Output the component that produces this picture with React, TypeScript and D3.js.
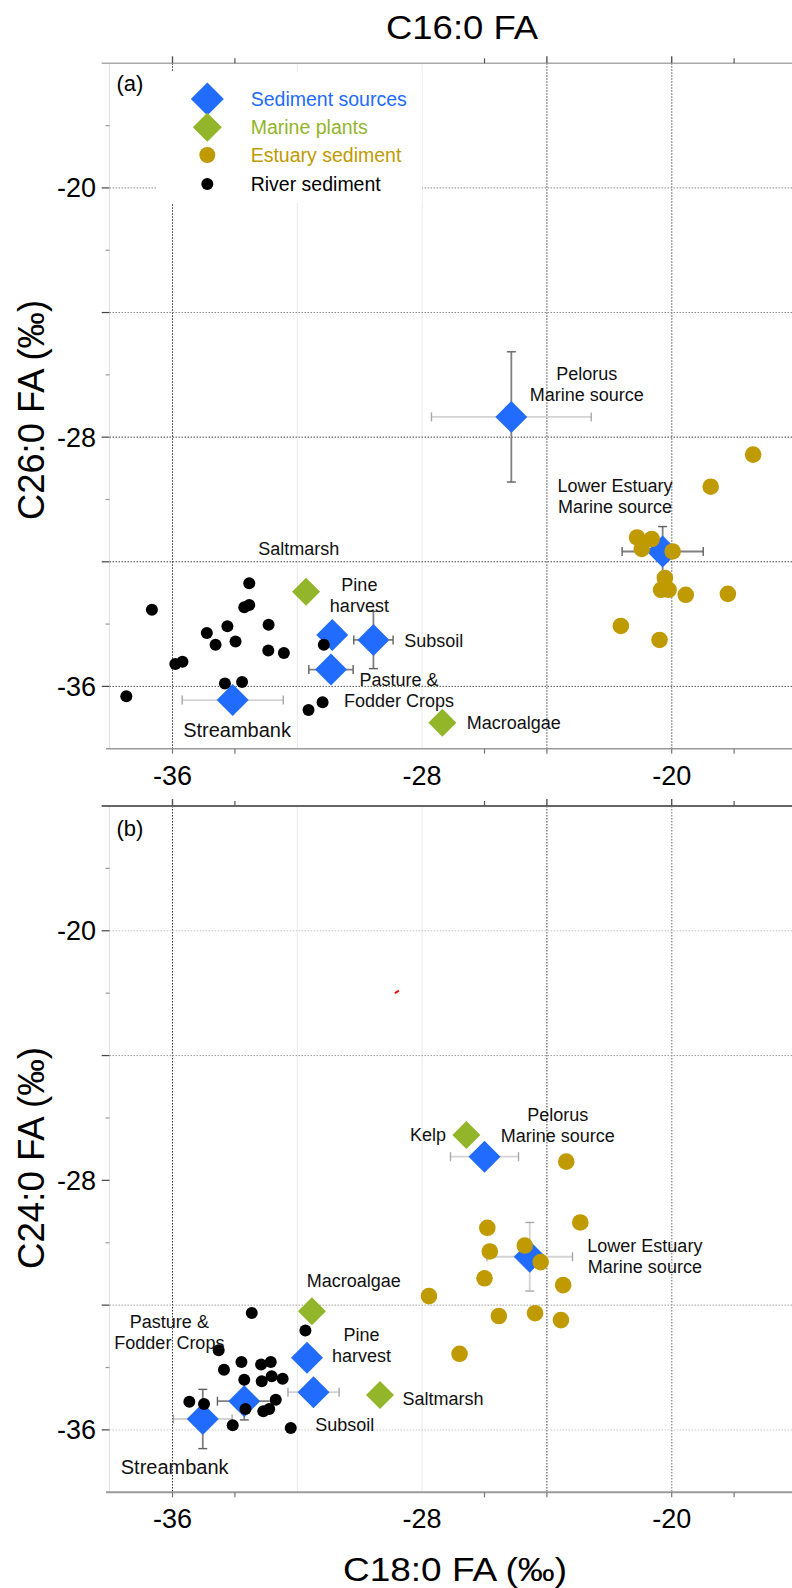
import React from "react";
import * as d3 from "d3";

// ---------- DATA ----------
const xTickLabels = [-36, -28, -20];
const yTickLabels = [-20, -28, -36];

// Panel (a): C16:0 vs C26:0
const riverA: [number, number][] = [
  [-36.66, -33.54], [-33.54, -32.69], [-33.54, -33.39], [-33.70, -33.46],
  [-34.24, -34.07], [-34.90, -34.29], [-32.92, -34.02], [-34.62, -34.66],
  [-33.98, -34.56], [-32.93, -34.85], [-32.43, -34.93], [-31.15, -34.66],
  [-35.68, -35.21], [-35.91, -35.28], [-34.32, -35.91], [-33.77, -35.86],
  [-37.48, -36.32], [-31.19, -36.51], [-31.64, -36.76],
];
const estuaryA: [number, number][] = [
  [-17.39, -28.56], [-18.75, -29.59], [-21.11, -31.22], [-20.64, -31.27],
  [-20.96, -31.59], [-19.97, -31.67], [-20.22, -32.52], [-20.34, -32.90],
  [-20.10, -32.90], [-19.55, -33.06], [-18.20, -33.03], [-21.63, -34.06],
  [-20.39, -34.51],
];
const sourceNames = [
  "Streambank", "Pine harvest", "Subsoil", "Pasture & Fodder Crops",
  "Pelorus Marine source", "Lower Estuary Marine source",
];
const sourcesAx = [-34.07, -30.88, -29.56, -30.92, -25.14, -20.29];
const sourcesAy = [-36.44, -34.35, -34.51, -35.46, -27.35, -31.67];
const sourcesAxErr = [1.62, 0, 0.63, 0.71, 2.56, 1.3];
const sourcesAyErr = [0, 0, 0.92, 0, 2.09, 0.8];
const plantNamesA = ["Saltmarsh", "Macroalgae"];
const plantsAx = [-31.72, -27.35];
const plantsAy = [-32.96, -37.17];

// Panel (b): C18:0 vs C24:0
const riverB: [number, number][] = [
  [-33.46, -32.25], [-31.74, -32.81], [-34.52, -33.45], [-34.35, -34.07],
  [-33.79, -33.82], [-33.16, -33.90], [-32.85, -33.82], [-33.70, -34.39],
  [-33.14, -34.44], [-32.82, -34.28], [-32.47, -34.36], [-32.69, -35.03],
  [-35.46, -35.10], [-34.99, -35.17], [-33.66, -35.33], [-33.09, -35.40],
  [-32.90, -35.33], [-34.07, -35.85], [-32.21, -35.94],
];
const estuaryB: [number, number][] = [
  [-23.38, -27.40], [-22.93, -29.35], [-25.91, -29.52], [-25.83, -30.28],
  [-24.71, -30.09], [-24.20, -30.62], [-26.00, -31.14], [-23.48, -31.36],
  [-27.78, -31.71], [-25.54, -32.35], [-24.38, -32.26], [-23.55, -32.48],
  [-26.80, -33.56],
];
const sourcesBx = [-35.03, -31.69, -31.48, -33.70, -26.00, -24.55];
const sourcesBy = [-35.65, -33.69, -34.79, -35.08, -27.24, -30.45];
const sourcesBxErr = [0.94, 0, 0.82, 0.86, 1.09, 1.37];
const sourcesByErr = [0.95, 0, 0, 0.6, 0, 1.1];
const plantNamesB = ["Kelp", "Macroalgae", "Saltmarsh"];
const plantsBx = [-26.58, -31.53, -29.35];
const plantsBy = [-26.55, -32.20, -34.88];

// Point labels (data coordinates of first baseline)
type Ann = { lines: string[]; x: number; y: number; anchor: string; big?: boolean };
const labelsA: Ann[] = [
  { lines: ["Pelorus", "Marine source"], x: -22.72, y: -26.17, anchor: "middle" },
  { lines: ["Lower Estuary", "Marine source"], x: -21.82, y: -29.77, anchor: "middle" },
  { lines: ["Saltmarsh"], x: -31.95, y: -31.77, anchor: "middle" },
  { lines: ["Pine", "harvest"], x: -30.01, y: -32.95, anchor: "middle" },
  { lines: ["Subsoil"], x: -28.57, y: -34.75, anchor: "start" },
  { lines: ["Pasture &", "Fodder Crops"], x: -28.74, y: -35.98, anchor: "middle" },
  { lines: ["Streambank"], x: -33.93, y: -37.62, anchor: "middle", big: true },
  { lines: ["Macroalgae"], x: -26.57, y: -37.37, anchor: "start" },
];
const labelsB: Ann[] = [
  { lines: ["Kelp"], x: -27.23, y: -26.74, anchor: "end" },
  { lines: ["Pelorus", "Marine source"], x: -23.65, y: -26.09, anchor: "middle" },
  { lines: ["Lower Estuary", "Marine source"], x: -20.86, y: -30.31, anchor: "middle" },
  { lines: ["Macroalgae"], x: -30.19, y: -31.43, anchor: "middle" },
  { lines: ["Pine", "harvest"], x: -29.94, y: -33.16, anchor: "middle" },
  { lines: ["Pasture &", "Fodder Crops"], x: -36.10, y: -32.73, anchor: "middle" },
  { lines: ["Saltmarsh"], x: -28.63, y: -35.19, anchor: "start" },
  { lines: ["Subsoil"], x: -30.48, y: -36.04, anchor: "middle" },
  { lines: ["Streambank"], x: -35.93, y: -37.41, anchor: "middle", big: true },
];
const legendItems = ["Sediment sources", "Marine plants", "Estuary sediment", "River sediment"];
const redMark: [number, number] = [-28.81, -21.96];

// ---------- STYLE ----------
const BLUE = "#216CFF";
const GREEN = "#93B52A";
const GOLD = "#BF9A00";
const FONT = "'Liberation Sans', Arial, Helvetica, sans-serif";

const x = d3.scaleLinear().domain([-38, -16]).range([110.1, 796.5]);
const yA = d3.scaleLinear().domain([-38, -16]).range([748.7, 63.3]);
const yB = d3.scaleLinear().domain([-38, -16]).range([1492.3, 806]);

const diamond = (s: number) => `M0,${-s}L${s},0L0,${s}L${-s},0Z`;

type Grid = { v: number; c: string; dash?: boolean; w?: number };
const hGridA: Grid[] = [
  { v: -20, c: "#8c8c8c", dash: true }, { v: -24, c: "#8c8c8c", dash: true },
  { v: -28, c: "#444", dash: true }, { v: -32, c: "#444", dash: true },
  { v: -36, c: "#555", dash: true },
];
const vGridA: Grid[] = [
  { v: -36, c: "#333", dash: true }, { v: -32, c: "#e8e8e8" }, { v: -28, c: "#e8e8e8" },
  { v: -24, c: "#444", dash: true }, { v: -20, c: "#888", dash: true, w: 1.5 },
];
const hGridB: Grid[] = [
  { v: -20, c: "#c4c4c4", dash: true }, { v: -24, c: "#9a9a9a", dash: true },
  { v: -32, c: "#a0a0a0", dash: true }, { v: -36, c: "#cccccc", dash: true },
];
const vGridB: Grid[] = [
  { v: -36, c: "#333", dash: true }, { v: -32, c: "#e8e8e8" }, { v: -28, c: "#e8e8e8" },
  { v: -24, c: "#444", dash: true }, { v: -20, c: "#999", dash: true, w: 1.5 },
];
const lightErr: Record<string, string[]> = {
  a: ["Pelorus Marine source:h", "Streambank:h"],
  b: ["Pelorus Marine source:h", "Lower Estuary Marine source:h", "Lower Estuary Marine source:v", "Streambank:h", "Subsoil:h"],
};

function Panel(props: {
  id: string; y: d3.ScaleLinear<number, number>;
  river: [number, number][]; estuary: [number, number][];
  sx: number[]; sy: number[]; sxe: number[]; sye: number[];
  pnames: string[]; px: number[]; py: number[];
  labels: Ann[]; hGrid: Grid[]; vGrid: Grid[];
  topStroke: string; topW: number; botW: number;
}) {
  const { id, y } = props;
  const [yMin, yMax] = [y(-38), y(-16)];
  const left = 109.5;
  const errCol = (name: string, dir: string) =>
    lightErr[id].includes(`${name}:${dir}`) ? "#d3d3d3" : "#808080";
  const capCol = (name: string, dir: string) =>
    lightErr[id].includes(`${name}:${dir}`) ? "#a8a8a8" : "#606060";
  return (
    <g>
      {/* vertical grid */}
      {props.vGrid.map((g, i) => (
        <line key={"vg" + i} x1={x(g.v)} x2={x(g.v)} y1={yMax} y2={yMin}
          stroke={g.c} strokeWidth={g.w ?? 1} strokeDasharray={g.dash ? "1.5,1.5" : undefined} />
      ))}
      {/* horizontal grid */}
      {props.hGrid.map((g, i) => (
        <line key={"hg" + i} x1={left} x2={792} y1={y(g.v)} y2={y(g.v)}
          stroke={g.c} strokeWidth={1} strokeDasharray={g.dash ? "1.5,1.5" : undefined} />
      ))}
      {/* left axis */}
      <line x1={left} x2={left} y1={yMax} y2={yMin} stroke="#e2e2e2" strokeWidth={1} />
      {[-20, -24, -28, -32, -36].map((v) => (
        <line key={"lt" + v} x1={101.7} x2={left} y1={y(v)} y2={y(v)} stroke="#444" strokeWidth={1.2} />
      ))}
      {[-18, -22, -26, -30, -34].map((v) => (
        <line key={"ls" + v} x1={105.5} x2={left} y1={y(v)} y2={y(v)} stroke="#999" strokeWidth={1.2} />
      ))}
      {yTickLabels.map((v) => (
        <text key={"yl" + v} x={96} y={y(v) + 9.5} fontSize={27} textAnchor="end" fill="#000">{v}</text>
      ))}
      {/* top axis */}
      <line x1={101.7} x2={792} y1={yMax} y2={yMax} stroke={props.topStroke} strokeWidth={props.topW} />
      {[-36, -24, -20].map((v) => (
        <line key={"tt" + v} x1={x(v)} x2={x(v)} y1={yMax - 7} y2={yMax} stroke="#555" strokeWidth={1.4} />
      ))}
      {[-34, -26, -18].map((v) => (
        <line key={"ts" + v} x1={x(v)} x2={x(v)} y1={yMax - 5} y2={yMax} stroke="#555" strokeWidth={1.2} />
      ))}
      {/* bottom axis */}
      <line x1={106} x2={792} y1={yMin} y2={yMin} stroke="#9a9a9a" strokeWidth={props.botW} />
      {[-36, -34, -26, -24, -20, -18].map((v) => (
        <line key={"bt" + v} x1={x(v)} x2={x(v)} y1={yMin} y2={yMin + 5} stroke="#777" strokeWidth={1.2} />
      ))}
      {xTickLabels.map((v) => (
        <text key={"xl" + v} x={x(v)} y={yMin + 36} fontSize={27} textAnchor="middle" fill="#000">{v}</text>
      ))}
      {/* error bars */}
      {props.sx.map((sx, i) => {
        const name = sourceNames[i];
        const cx = x(sx), cy = y(props.sy[i]);
        const out: any[] = [];
        const xe = props.sxe[i], ye = props.sye[i];
        if (xe > 0) {
          const x1 = x(sx - xe), x2 = x(sx + xe);
          out.push(<line key="h" x1={x1} x2={x2} y1={cy} y2={cy} stroke={errCol(name, "h")} strokeWidth={1.8} />);
          out.push(<line key="hc1" x1={x1} x2={x1} y1={cy - 4.5} y2={cy + 4.5} stroke={capCol(name, "h")} strokeWidth={1.4} />);
          out.push(<line key="hc2" x1={x2} x2={x2} y1={cy - 4.5} y2={cy + 4.5} stroke={capCol(name, "h")} strokeWidth={1.4} />);
        }
        if (ye > 0) {
          const y1 = y(props.sy[i] - ye), y2 = y(props.sy[i] + ye);
          out.push(<line key="v" x1={cx} x2={cx} y1={y1} y2={y2} stroke={errCol(name, "v")} strokeWidth={1.8} />);
          out.push(<line key="vc1" x1={cx - 4.5} x2={cx + 4.5} y1={y1} y2={y1} stroke={capCol(name, "v")} strokeWidth={1.4} />);
          out.push(<line key="vc2" x1={cx - 4.5} x2={cx + 4.5} y1={y2} y2={y2} stroke={capCol(name, "v")} strokeWidth={1.4} />);
        }
        return <g key={"eb" + i}>{out}</g>;
      })}
      {/* sediment sources */}
      {props.sx.map((sx, i) => (
        <path key={"s" + i} d={diamond(16)} transform={`translate(${x(sx)},${y(props.sy[i])})`} fill={BLUE} />
      ))}
      {/* marine plants */}
      {props.px.map((px, i) => (
        <path key={"p" + i} d={diamond(14)} transform={`translate(${x(px)},${y(props.py[i])})`} fill={GREEN} />
      ))}
      {/* estuary sediment */}
      {props.estuary.map((d, i) => (
        <circle key={"e" + i} cx={x(d[0])} cy={y(d[1])} r={8.3} fill={GOLD} />
      ))}
      {/* river sediment */}
      {props.river.map((d, i) => (
        <circle key={"r" + i} cx={x(d[0])} cy={y(d[1])} r={6} fill="#000" />
      ))}
      {/* labels */}
      {props.labels.map((a, i) => (
        <text key={"lab" + i} x={x(a.x)} y={y(a.y)} fontSize={a.big ? 20 : 18}
          textAnchor={a.anchor} fill="#111">
          {a.lines.map((t, j) => (
            <tspan key={j} x={x(a.x)} dy={j === 0 ? 0 : 21}>{t}</tspan>
          ))}
        </text>
      ))}
    </g>
  );
}

export default function App() {
  const legendColors = [BLUE, GREEN, GOLD, "#000"];
  const legendY = [99, 127.3, 155, 184];
  return (
    <svg width={792} height={1588} style={{ position: "absolute", left: 0, top: 0, background: "#fff" }}
      fontFamily={FONT}>
      <rect x={0} y={0} width={792} height={1588} fill="#fff" />
      {/* Titles */}
      <text x={462} y={39} fontSize={34} textAnchor="middle" textLength={152} lengthAdjust="spacingAndGlyphs">C16:0 FA</text>
      <text x={455} y={1581} fontSize={33} textAnchor="middle" textLength={224} lengthAdjust="spacingAndGlyphs">C18:0 FA (‰)</text>
      <text transform="translate(44,410) rotate(-90)" fontSize={36} textAnchor="middle" textLength={220} lengthAdjust="spacingAndGlyphs">C26:0 FA (‰)</text>
      <text transform="translate(44,1158) rotate(-90)" fontSize={36} textAnchor="middle" textLength={222} lengthAdjust="spacingAndGlyphs">C24:0 FA (‰)</text>

      <Panel id="a" y={yA} river={riverA} estuary={estuaryA}
        sx={sourcesAx} sy={sourcesAy} sxe={sourcesAxErr} sye={sourcesAyErr}
        pnames={plantNamesA} px={plantsAx} py={plantsAy}
        labels={labelsA} hGrid={hGridA} vGrid={vGridA}
        topStroke="#aaaaaa" topW={1.5} botW={1.5} />
      <Panel id="b" y={yB} river={riverB} estuary={estuaryB}
        sx={sourcesBx} sy={sourcesBy} sxe={sourcesBxErr} sye={sourcesByErr}
        pnames={plantNamesB} px={plantsBx} py={plantsBy}
        labels={labelsB} hGrid={hGridB} vGrid={vGridB}
        topStroke="#666666" topW={2} botW={2} />

      {/* red stray mark in (b) */}
      <line x1={x(redMark[0]) - 2} x2={x(redMark[0]) + 2} y1={yB(redMark[1]) + 1.3} y2={yB(redMark[1]) - 1.3}
        stroke="#ff0000" strokeWidth={2} />

      {/* panel tags */}
      <text x={116.5} y={91} fontSize={22}>(a)</text>
      <text x={116.5} y={836} fontSize={22}>(b)</text>

      {/* legend */}
      <rect x={157} y={72} width={265} height={131} fill="#fff" />
      {legendItems.map((t, i) => {
        const cy = legendY[i];
        const mark = i === 0 ? <path d={diamond(16.5)} transform={`translate(207.3,${cy})`} fill={BLUE} />
          : i === 1 ? <path d={diamond(14.5)} transform={`translate(207.3,${cy})`} fill={GREEN} />
          : i === 2 ? <circle cx={207.3} cy={cy} r={8} fill={GOLD} />
          : <circle cx={207.3} cy={cy} r={6} fill="#000" />;
        return (
          <g key={"lg" + i}>
            {mark}
            <text x={250.7} y={cy + 6.8} fontSize={19.5} fill={legendColors[i]}>{t}</text>
          </g>
        );
      })}
    </svg>
  );
}
